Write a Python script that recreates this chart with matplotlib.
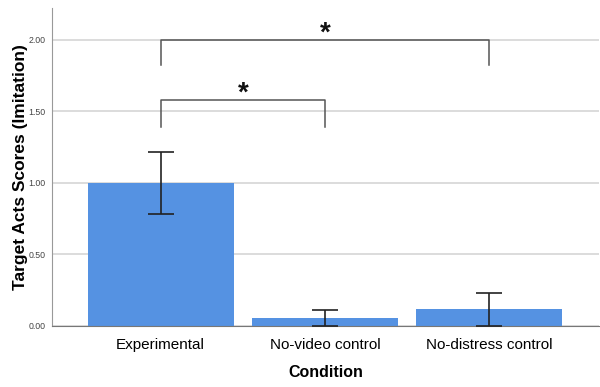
import numpy as np
import matplotlib
matplotlib.use("Agg")
import matplotlib.pyplot as plt

plt.rcParams['font.family'] = ['Liberation Sans', 'DejaVu Sans']

# data
conditions = ["Experimental", "No-video control", "No-distress control"]
means = [1.00, 0.055, 0.115]
err_lo = [0.22, 0.055, 0.115]
err_hi = [0.215, 0.057, 0.118]
yticks = [0.0, 0.5, 1.0, 1.5, 2.0]

# significance brackets: (left bar, right bar, top y, leg bottom y)
brackets = [(0, 2, 2.00, 1.82), (0, 1, 1.58, 1.39)]

fig = plt.figure(figsize=(6, 3.87), dpi=100)
ax = fig.add_axes([0.087, 0.158, 0.912, 0.821])

x = np.arange(len(conditions))
ax.bar(x, means, width=0.89, color="#5592e2", zorder=2)
ax.errorbar(x, means, yerr=[err_lo, err_hi], fmt="none", ecolor="#222222",
            elinewidth=1.2, capsize=9.5, capthick=1.2, zorder=3)

for x0, x1, ytop, ybot in brackets:
    ax.plot([x0, x0, x1, x1], [ybot, ytop, ytop, ybot], color="#555555",
            lw=1.1, zorder=3)
    ax.text((x0 + x1) / 2, ytop - 0.05, "*", ha="center", va="bottom",
            fontsize=20, fontweight="bold", color="#111111")

ax.set_xlim(-0.66, 2.67)
ax.set_ylim(0, 2.22)
ax.set_yticks(yticks)
ax.set_yticklabels(["%.2f" % t for t in yticks], fontsize=6.3, color="#444444")
ax.set_xticks(x)
ax.set_xticklabels(conditions, fontsize=11)
ax.tick_params(axis="both", length=0, pad=5)
ax.tick_params(axis="x", pad=9)
ax.yaxis.grid(True, color="#d9d9d9", lw=1.3, zorder=0)

for s in ["top", "right"]:
    ax.spines[s].set_visible(False)
ax.spines["left"].set_color("#999999")
ax.spines["bottom"].set_color("#777777")

ax.set_xlabel("Condition", fontsize=11.5, fontweight="bold", labelpad=9)
ax.set_ylabel("Target Acts Scores (Imitation)", fontsize=12.5, fontweight="bold",
              labelpad=0)

fig.savefig("out.png", dpi=100)
